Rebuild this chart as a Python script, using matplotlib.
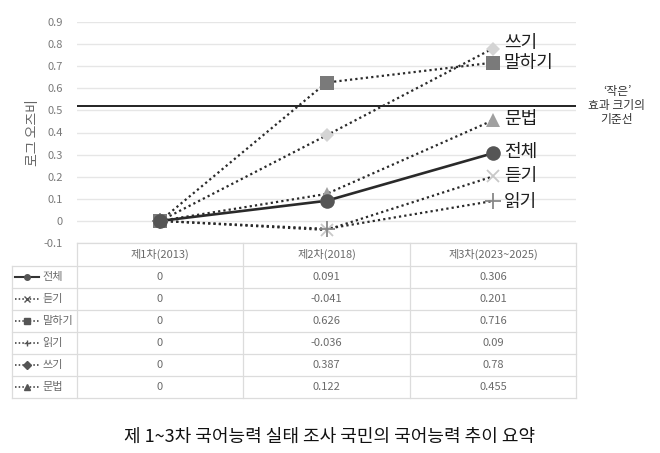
import numpy as np
import matplotlib.pyplot as plt
from matplotlib.lines import Line2D

plt.rcParams['font.family'] = ['Noto Sans CJK KR', 'DejaVu Sans']

# data
categories = ['제1차(2013)', '제2차(2018)', '제3차(2023~2025)']
series_names = ['전체', '듣기', '말하기', '읽기', '쓰기', '문법']
total = [0, 0.091, 0.306]
listening = [0, -0.041, 0.201]
speaking = [0, 0.626, 0.716]
reading = [0, -0.036, 0.09]
writing = [0, 0.387, 0.78]
grammar = [0, 0.122, 0.455]
threshold = 0.52
yticks = [-0.1, 0, 0.1, 0.2, 0.3, 0.4, 0.5, 0.6, 0.7, 0.8, 0.9]
ytick_labels = ['-0.1', '0', '0.1', '0.2', '0.3', '0.4', '0.5', '0.6', '0.7', '0.8', '0.9']

series = [total, listening, speaking, reading, writing, grammar]
# style per series: marker, marker colour, size, linestyle, label y-offset (pt)
styles = {
    '전체': dict(marker='o', mc='#555555', ms=10.5, ls='-', lw=1.9, dy=1),
    '듣기': dict(marker='x', mc='#c8c8c8', ms=9, ls=(0, (1, 1.4)), lw=1.6, dy=0),
    '말하기': dict(marker='s', mc='#7a7a7a', ms=9.5, ls=(0, (1, 1.4)), lw=1.6, dy=0),
    '읽기': dict(marker='+', mc='#888888', ms=11, ls=(0, (1, 1.4)), lw=1.6, dy=-1),
    '쓰기': dict(marker='D', mc='#d4d4d4', ms=7.5, ls=(0, (1, 1.4)), lw=1.6, dy=4),
    '문법': dict(marker='^', mc='#a0a0a0', ms=9.5, ls=(0, (1, 1.4)), lw=1.6, dy=1),
}

W, H = 660, 453
fig = plt.figure(figsize=(W / 100, H / 100), dpi=100)

def fx(px):
    return px / W

def fy(py):
    return 1 - py / H

# main plot area: x 77..576, y 22 (0.9) .. 243 (-0.1)
ax = fig.add_axes([fx(77), fy(243), fx(576) - fx(77), fy(22) - fy(243)])
ax.set_xlim(-0.5, 2.5)
ax.set_ylim(-0.1, 0.9)
ax.set_yticks(yticks)
ax.set_yticklabels(ytick_labels)
ax.set_xticks([])
for s in ax.spines.values():
    s.set_visible(False)
ax.tick_params(axis='y', length=0, labelsize=8, labelcolor='#7a7a7a', pad=10)
ax.grid(axis='y', color='#e6e6e6', lw=1)
ax.set_axisbelow(True)
ax.set_ylabel('로그 오즈비', fontsize=10, color='#666666', labelpad=3)

ax.axhline(threshold, color='#222222', lw=1.4, zorder=2)

x = np.arange(len(categories))
draw_order = [1, 3, 4, 5, 2, 0]
for i in draw_order:
    name = series_names[i]
    st = styles[name]
    ax.plot(x, series[i], color='#2a2a2a', ls=st['ls'], lw=st['lw'], zorder=3)
    mew = 1.3 if st['marker'] in ('x', '+') else 0
    ax.plot(x, series[i], ls='none', marker=st['marker'], ms=st['ms'],
            color=st['mc'], mec=st['mc'], mew=mew, zorder=4)
    ax.annotate(name, (x[-1], series[i][-1]), xytext=(8, st['dy']),
                textcoords='offset points', fontsize=13,
                color='#1e1e1e', va='center', ha='left', annotation_clip=False)

fig.text(fx(617), fy(106), "‘작은’\n효과 크기의\n기준선", ha='center', va='center',
         fontsize=8.5, color='#333333', linespacing=1.1)

# data table below the plot
tcol = '#dcdcdc'
left, c1, c2, c3, right = 12, 77, 243, 410, 576
top, head_bot, row_h = 243, 266, 22
bottom = head_bot + row_h * len(series_names)

def hline(py, x0, x1):
    fig.add_artist(Line2D([fx(x0), fx(x1)], [fy(py), fy(py)], color=tcol, lw=0.9))

def vline(px, y0, y1):
    fig.add_artist(Line2D([fx(px), fx(px)], [fy(y0), fy(y1)], color=tcol, lw=0.9))

hline(top, c1, right)
for r in range(len(series_names) + 1):
    hline(head_bot + r * row_h, left, right)
vline(left, head_bot, bottom)
for px in (c1, c2, c3, right):
    vline(px, top, bottom)

centers = [(c1 + c2) / 2, (c2 + c3) / 2, (c3 + right) / 2]
for j, cat in enumerate(categories):
    fig.text(fx(centers[j]), fy((top + head_bot) / 2), cat, ha='center', va='center',
             fontsize=8, color='#6a6a6a')

for r, name in enumerate(series_names):
    cy = head_bot + r * row_h + row_h / 2
    st = styles[name]
    fig.add_artist(Line2D([fx(15), fx(39)], [fy(cy), fy(cy)], color='#333333',
                          ls=st['ls'], lw=1.5 if st['ls'] == '-' else 1.1))
    fig.add_artist(Line2D([fx(27)], [fy(cy)], marker=st['marker'], ms=4,
                          color='#555555', mec='#555555', ls='none'))
    fig.text(fx(42), fy(cy), name, ha='left', va='center', fontsize=8, color='#6a6a6a')
    for j in range(len(categories)):
        v = series[r][j]
        fig.text(fx(centers[j]), fy(cy), f'{v:g}', ha='center', va='center',
                 fontsize=8, color='#6a6a6a')

fig.text(0.5, fy(437), '제 1~3차 국어능력 실태 조사 국민의 국어능력 추이 요약',
         ha='center', va='center', fontsize=13, color='#111111')

fig.savefig('out.png', dpi=100, facecolor='white')
